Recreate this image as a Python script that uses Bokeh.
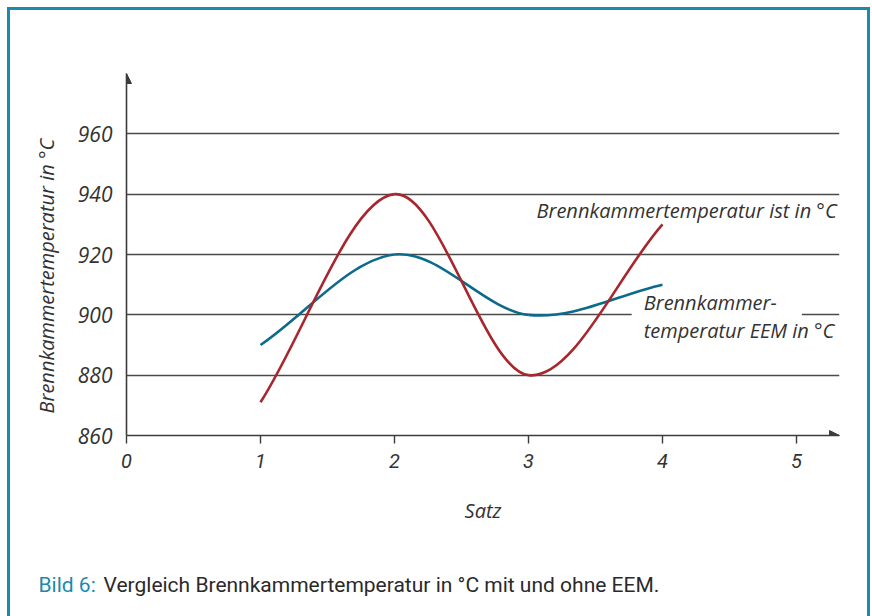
import numpy as np
from bokeh.plotting import figure
from bokeh.layouts import column
from bokeh.models import (Label, Arrow, NormalHead, FixedTicker, ColumnDataSource,
                          BoxAnnotation, Title)
from bokeh.embed import file_html
from bokeh.resources import INLINE

# ---- data ----
satz = [1, 2, 3, 4]
ist_temp = [871, 940, 880, 930]      # Brennkammertemperatur ist
eem_temp = [890, 920, 900, 910]      # Brennkammertemperatur EEM
x_ticks = [0, 1, 2, 3, 4, 5]
y_ticks = [860, 880, 900, 920, 940, 960]

TEAL = "#1b8aab"
RED = "#a8262e"
BLUE = "#0c6a8a"
AX = "#3c3c3c"
TXT = "#333333"


def bezier_segments(xs, ys):
    """Cubic Bezier segments through the data points (Catmull-Rom style tangents)."""
    xs = np.asarray(xs, float)
    ys = np.asarray(ys, float)
    n = len(xs)
    m = np.empty(n)
    for i in range(n):
        if i == 0:
            m[i] = (ys[1] - ys[0]) / (xs[1] - xs[0])
        elif i == n - 1:
            m[i] = (ys[-1] - ys[-2]) / (xs[-1] - xs[-2])
        else:
            m[i] = (ys[i + 1] - ys[i - 1]) / (xs[i + 1] - xs[i - 1])
    h = np.diff(xs)
    return dict(x0=xs[:-1], y0=ys[:-1], x1=xs[1:], y1=ys[1:],
                cx0=xs[:-1] + h / 3, cy0=ys[:-1] + m[:-1] * h / 3,
                cx1=xs[1:] - h / 3, cy1=ys[1:] - m[1:] * h / 3)


X_END = 5.321
Y_END = 980
W = 857

p = figure(width=W, height=530, x_range=(0, X_END), y_range=(860, Y_END),
           output_backend="svg", toolbar_location=None,
           min_border_left=116, min_border_right=28,
           min_border_top=63, min_border_bottom=105)
p.frame_align = False
p.outline_line_color = None
p.background_fill_color = "white"
p.border_fill_color = "white"

# grid
p.xgrid.visible = False
p.ygrid.ticker = FixedTicker(ticks=y_ticks)
p.ygrid.grid_line_color = "#4a4a4a"
p.ygrid.grid_line_width = 1.3

# axes
xa = p.xaxis[0]
xa.ticker = FixedTicker(ticks=x_ticks)
xa.axis_line_color = AX
xa.axis_line_width = 1.6
xa.major_tick_line_color = AX
xa.major_tick_line_width = 1.4
xa.major_tick_in = 0
xa.major_tick_out = 8
xa.minor_tick_line_color = None
xa.major_label_text_font = "Roboto"
xa.major_label_text_font_style = "italic"
xa.major_label_text_font_size = "20px"
xa.major_label_text_color = TXT
xa.major_label_standoff = 10
xa.axis_label = "Satz"
xa.axis_label_text_font = "Open Sans"
xa.axis_label_text_font_style = "italic"
xa.axis_label_text_font_size = "20px"
xa.axis_label_text_color = TXT
xa.axis_label_standoff = 26

ya = p.yaxis[0]
ya.ticker = FixedTicker(ticks=y_ticks)
ya.axis_line_color = AX
ya.axis_line_width = 1.6
ya.major_tick_in = 0
ya.major_tick_out = 0
ya.minor_tick_line_color = None
ya.major_label_text_font = "Open Sans"
ya.major_label_text_font_style = "italic"
ya.major_label_text_font_size = "21px"
ya.major_label_text_color = TXT
ya.major_label_standoff = 14

# y axis title (as a side title so it can sit lower, like the reference)
p.add_layout(Title(text="Brennkammertemperatur in °C", align="left", offset=22,
                   text_font="Open Sans", text_font_style="italic",
                   text_font_size="20px", text_color=TXT, standoff=29), "left")

# arrow heads on the axes
p.add_layout(Arrow(end=NormalHead(size=10, fill_color=AX, line_color=AX),
                   x_start=X_END - 0.05, y_start=860, x_end=X_END, y_end=860,
                   line_alpha=0))
p.add_layout(Arrow(end=NormalHead(size=10, fill_color=AX, line_color=AX),
                   x_start=0, y_start=Y_END - 2, x_end=0, y_end=Y_END,
                   line_alpha=0))

# curves
p.bezier(source=ColumnDataSource(bezier_segments(satz, eem_temp)),
         x0="x0", y0="y0", x1="x1", y1="y1", cx0="cx0", cy0="cy0", cx1="cx1", cy1="cy1",
         line_color=BLUE, line_width=2.6)
p.bezier(source=ColumnDataSource(bezier_segments(satz, ist_temp)),
         x0="x0", y0="y0", x1="x1", y1="y1", cx0="cx0", cy0="cy0", cx1="cx1", cy1="cy1",
         line_color=RED, line_width=2.6)

# series labels
p.add_layout(BoxAnnotation(left=3.77, right=5.04, bottom=898.3, top=901.7,
                           fill_color="white", fill_alpha=1, line_alpha=0))
lab_kw = dict(text_font="Open Sans", text_font_style="italic", text_font_size="20px",
              text_color=TXT, text_baseline="middle")
p.add_layout(Label(x=5.30, y=934.6, text="Brennkammertemperatur ist in °C",
                   text_align="right", **lab_kw))
p.add_layout(Label(x=3.86, y=904.1, text="Brennkammer-", text_align="left", **lab_kw))
p.add_layout(Label(x=3.86, y=894.8, text="temperatur EEM in °C", text_align="left", **lab_kw))

# caption strip
CAP_H = 76
c = figure(width=W, height=CAP_H, x_range=(0, W), y_range=(0, CAP_H),
           x_axis_location=None, y_axis_location=None, min_border=0,
           output_backend="svg", toolbar_location=None)
c.frame_align = False
c.outline_line_color = None
c.xgrid.visible = False
c.ygrid.visible = False
cap_kw = dict(text_font="Roboto", text_font_size="21px", text_baseline="middle",
              text_align="left")
c.add_layout(Label(x=28, y=32, text="Bild 6:", text_color="#1a8ab0", **cap_kw))
c.add_layout(Label(x=93, y=32, text="Vergleich Brennkammertemperatur in °C mit und ohne EEM.",
                   text_color="#2a2a2a", **cap_kw))

layout = column(p, c, spacing=0)
layout.styles = {"margin-left": "7px", "margin-top": "7px",
                 "border-top": f"3px solid {TEAL}", "border-left": f"3px solid {TEAL}",
                 "border-right": f"3px solid {TEAL}"}

open("out.html", "w").write(file_html(layout, INLINE))
